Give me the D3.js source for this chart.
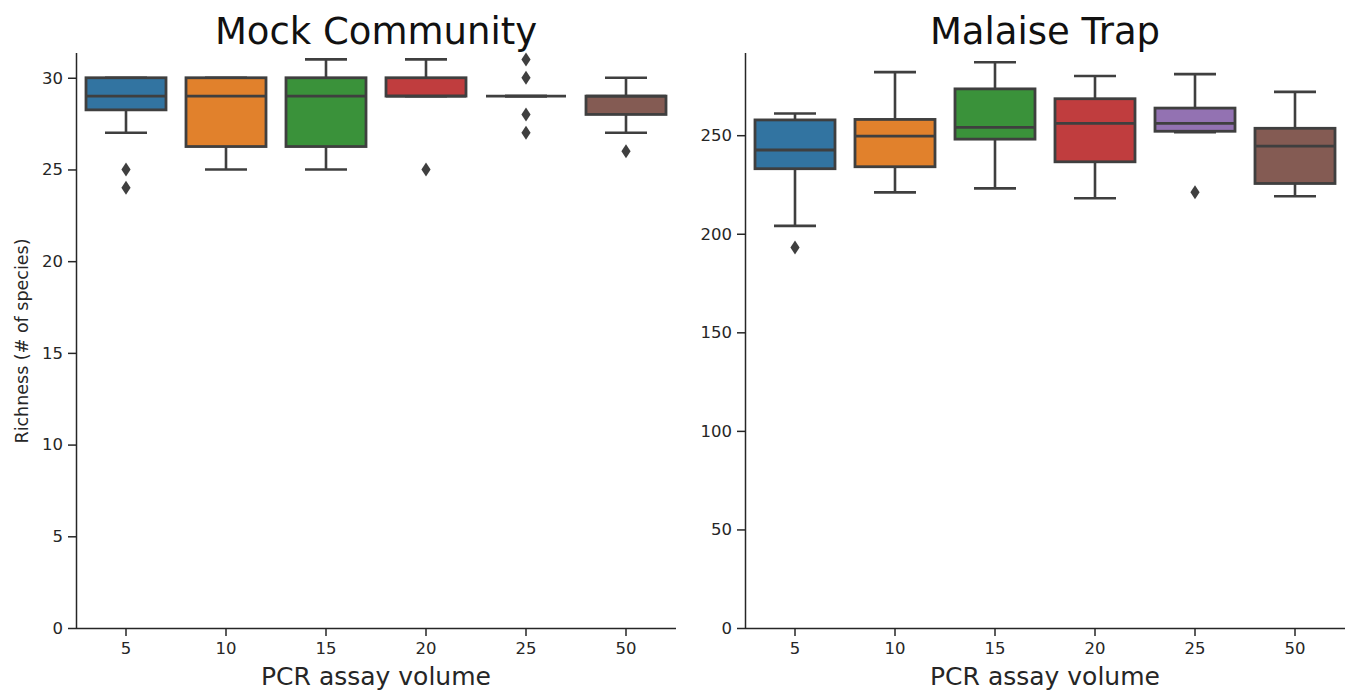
<!DOCTYPE html>
<html>
<head>
<meta charset="utf-8">
<script src="https://cdn.jsdelivr.net/npm/d3@7"></script>
<style>
  html, body { margin: 0; padding: 0; background: #fff; }
  svg { display: block; font-family: "DejaVu Sans", sans-serif; }
</style>
</head>
<body>
<div id="chart"></div>
<script>
// PCR assay volume categories (shared by both panels)
var volumes = ["5", "10", "15", "20", "25", "50"];
var palette = ["#3274a1", "#e1812c", "#3a923a", "#c03d3e", "#9372b2", "#845b53"];

// Mock Community — box stats
var mockLow  = [27, 25, 25, 29, 29, 27];
var mockQ1   = [28.25, 26.25, 26.25, 29, 29, 28];
var mockMed  = [29, 29, 29, 29, 29, 29];
var mockQ3   = [30, 30, 30, 30, 29, 29];
var mockHigh = [30, 30, 31, 31, 29, 30];
var mockOut  = [[25, 24], [], [], [25], [31, 30, 28, 27], [26]];
var mockTicks = [0, 5, 10, 15, 20, 25, 30];

// Malaise Trap
var malLow  = [204, 221, 223, 218, 251.5, 219];
var malQ1   = [233, 234, 248, 236.5, 252, 225.5];
var malMed  = [242.5, 249.5, 254, 256, 256, 244.5];
var malQ3   = [257.75, 258, 273.5, 268.5, 263.75, 253.5];
var malHigh = [261, 282, 287, 280, 281, 272];
var malOut  = [[193], [], [], [], [221], []];
var malTicks = [0, 50, 100, 150, 200, 250];

var W = 1349, H = 692;
var LINE = "#3f3f3f", INK = "#262626";

var svg = d3.select("#chart").append("svg").attr("width", W).attr("height", H);

function panel(opt) {
  var n = volumes.length;
  var all = [];
  for (var i = 0; i < n; i++) all = all.concat([opt.low[i], opt.high[i]], opt.out[i]);
  var lo = d3.min(all), hi = d3.max(all);
  var top = hi + 0.05 * (hi - lo);   // matplotlib-ish margin, bottom pinned at 0

  var x = d3.scaleBand().domain(volumes).range([opt.x0, opt.x0 + 600]).paddingInner(0.2).paddingOuter(0.1);
  var xc = function (v) { return x(v) + x.bandwidth() / 2; };
  var y = d3.scaleLinear().domain([0, top]).range([628, 53]);

  var g = svg.append("g");

  // axes (despined: left + bottom only)
  var yAxis = g.append("g").attr("transform", "translate(" + opt.x0 + ",0)")
    .call(d3.axisLeft(y).tickValues(opt.ticks).tickSize(8).tickPadding(5));
  var xAxis = g.append("g").attr("transform", "translate(0,628)")
    .call(d3.axisBottom(x).tickSize(8).tickPadding(6));
  [yAxis, xAxis].forEach(function (a) {
    a.select(".domain").attr("stroke", INK).attr("stroke-width", 1.5)
      .attr("d", a === yAxis ? "M0.5,53V628" : "M" + opt.x0 + ",0.5H" + (opt.x0 + 600));
    a.selectAll(".tick line").attr("stroke", INK).attr("stroke-width", 1.5);
    a.selectAll(".tick text").attr("fill", INK).style("font-size", "16.5px").style("font-family", "DejaVu Sans");
  });

  var cap = x.bandwidth() * 0.525;
  var boxes = g.selectAll("g.box").data(volumes).join("g").attr("class", "box");
  boxes.each(function (v, i) {
    var b = d3.select(this), cx = xc(v), bw = x.bandwidth();
    // whiskers
    b.append("line").attr("x1", cx).attr("x2", cx).attr("y1", y(opt.q3[i])).attr("y2", y(opt.high[i]))
      .attr("stroke", LINE).attr("stroke-width", 2.6);
    b.append("line").attr("x1", cx).attr("x2", cx).attr("y1", y(opt.q1[i])).attr("y2", y(opt.low[i]))
      .attr("stroke", LINE).attr("stroke-width", 2.6);
    [opt.high[i], opt.low[i]].forEach(function (val) {
      b.append("line").attr("x1", cx - cap / 2).attr("x2", cx + cap / 2).attr("y1", y(val)).attr("y2", y(val))
        .attr("stroke", LINE).attr("stroke-width", 2.6);
    });
    // box
    b.append("rect").attr("x", x(v)).attr("width", bw)
      .attr("y", y(opt.q3[i])).attr("height", Math.max(0, y(opt.q1[i]) - y(opt.q3[i])))
      .attr("fill", palette[i]).attr("stroke", LINE).attr("stroke-width", 2.8);
    // median
    b.append("line").attr("x1", x(v)).attr("x2", x(v) + bw).attr("y1", y(opt.med[i])).attr("y2", y(opt.med[i]))
      .attr("stroke", LINE).attr("stroke-width", 2.8);
    // outliers (thin diamonds)
    b.selectAll("path.out").data(opt.out[i]).join("path").attr("class", "out")
      .attr("d", "M0,-7L4.6,0L0,7L-4.6,0Z")
      .attr("transform", function (d) { return "translate(" + cx + "," + y(d) + ")"; })
      .attr("fill", LINE);
  });

  // title + x label
  g.append("text").attr("x", opt.x0 + 300).attr("y", 44).attr("text-anchor", "middle")
    .style("font-size", "37px").attr("fill", "#111").text(opt.title);
  g.append("text").attr("x", opt.x0 + 300).attr("y", 685).attr("text-anchor", "middle")
    .style("font-size", "25px").attr("fill", INK).text("PCR assay volume");
}

panel({ x0: 76, title: "Mock Community", low: mockLow, q1: mockQ1, med: mockMed, q3: mockQ3, high: mockHigh, out: mockOut, ticks: mockTicks });
panel({ x0: 745, title: "Malaise Trap", low: malLow, q1: malQ1, med: malMed, q3: malQ3, high: malHigh, out: malOut, ticks: malTicks });

svg.append("text").attr("transform", "translate(28,341) rotate(-90)").attr("text-anchor", "middle")
  .style("font-size", "17.5px").attr("fill", INK).text("Richness (# of species)");
</script>
</body>
</html>
